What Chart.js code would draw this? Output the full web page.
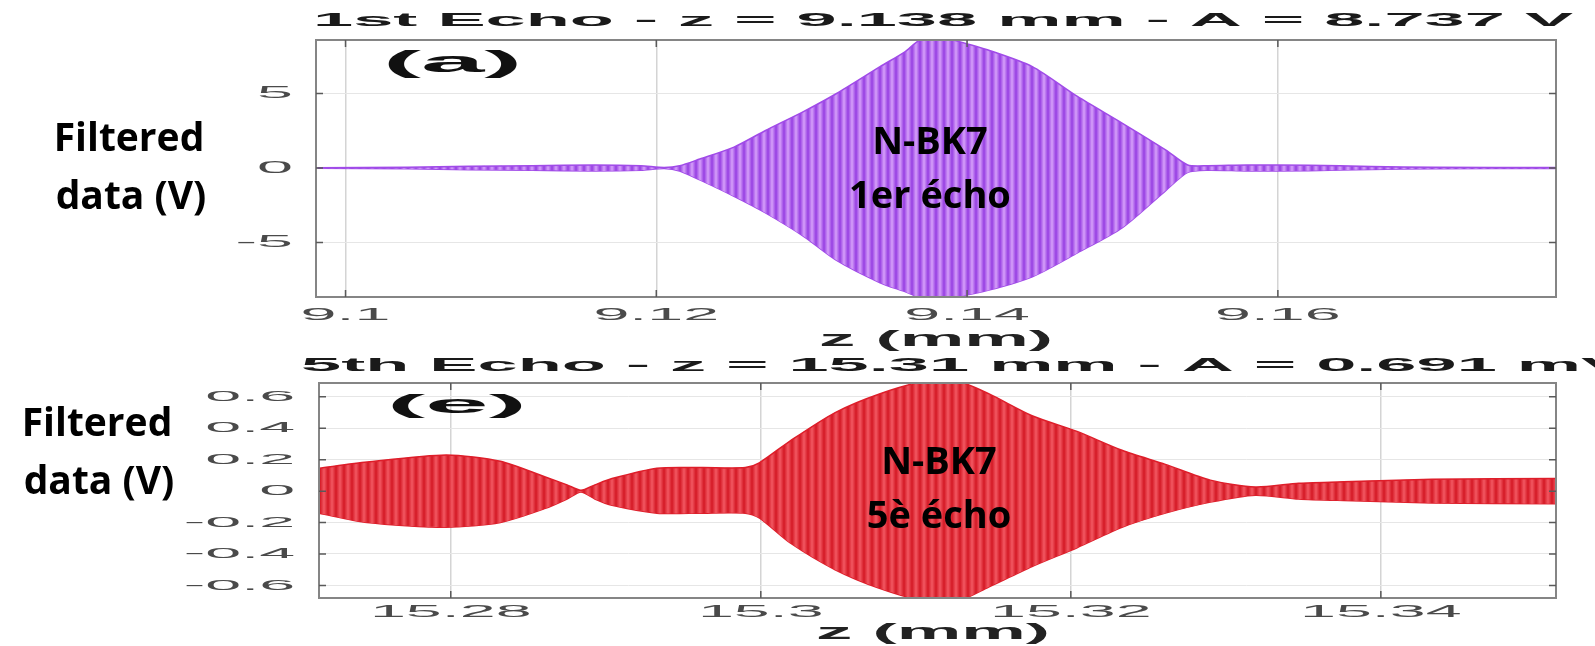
<!DOCTYPE html>
<html>
<head>
<meta charset="utf-8">
<script src="https://cdn.jsdelivr.net/npm/chart.js@4.4.1/dist/chart.umd.min.js"></script>
<style>
  html, body { margin: 0; padding: 0; background: #fff; }
  #wrap { position: relative; width: 1595px; height: 646px; overflow: hidden; }
  canvas { position: absolute; left: 0; }
</style>
</head>
<body>
<div id="wrap">
  <canvas id="chartA" width="1595" height="355" style="top:0;width:1595px;height:355px"></canvas>
  <canvas id="chartE" width="1595" height="291" style="top:355px;width:1595px;height:291px"></canvas>
</div>
<script>
// panel (a) : 1st echo, envelope
var zA     = [9.0982, 9.104, 9.108, 9.112, 9.116, 9.119, 9.1205, 9.1215, 9.1228, 9.125, 9.127, 9.1295, 9.1316, 9.1344, 9.136, 9.137, 9.1385, 9.1391, 9.1414, 9.1442, 9.1471, 9.150, 9.1528, 9.1542, 9.1555, 9.158, 9.162, 9.166, 9.170, 9.1779];
var upperA = [0.02, 0.05, 0.12, 0.15, 0.2, 0.15, 0.04, 0.15, 0.6, 1.4, 2.5, 3.8, 5.0, 6.8, 7.8, 8.6, 8.74, 8.6, 7.9, 6.8, 4.8, 3.0, 1.2, 0.2, 0.15, 0.2, 0.18, 0.1, 0.05, 0.03];
var lowerA = [-0.02, -0.05, -0.12, -0.15, -0.2, -0.15, -0.04, -0.2, -0.8, -1.9, -3.0, -4.6, -6.2, -7.7, -8.3, -8.7, -8.74, -8.7, -8.2, -7.3, -5.7, -4.0, -1.5, -0.3, -0.15, -0.2, -0.18, -0.1, -0.05, -0.03];
var xTicksA  = [9.1, 9.12, 9.14, 9.16];
var xLabelsA = ["9.1", "9.12", "9.14", "9.16"];
var yTicksA  = [-5, 0, 5];
var yLabelsA = ["-5", "0", "5"];

// panel (e) : 5th echo
var zE     = [15.2715, 15.2746, 15.2797, 15.2832, 15.2861, 15.2875, 15.2884, 15.2893, 15.2904, 15.2933, 15.2962, 15.299, 15.2999, 15.3019, 15.3048, 15.3077, 15.3106, 15.3127, 15.3147, 15.3175, 15.3204, 15.3233, 15.3261, 15.329, 15.3319, 15.3347, 15.3376, 15.3433, 15.3513];
var upperE = [0.146, 0.185, 0.23, 0.19, 0.09, 0.04, 0.005, 0.04, 0.08, 0.146, 0.15, 0.15, 0.18, 0.32, 0.50, 0.62, 0.70, 0.70, 0.62, 0.48, 0.38, 0.26, 0.17, 0.07, 0.026, 0.05, 0.06, 0.075, 0.08];
var lowerE = [-0.14, -0.20, -0.23, -0.20, -0.11, -0.05, -0.005, -0.05, -0.09, -0.14, -0.14, -0.14, -0.17, -0.33, -0.50, -0.62, -0.70, -0.70, -0.61, -0.48, -0.36, -0.23, -0.14, -0.07, -0.026, -0.05, -0.06, -0.075, -0.08];
var xTicksE  = [15.28, 15.3, 15.32, 15.34];
var xLabelsE = ["15.28", "15.3", "15.32", "15.34"];
var yTicksE  = [-0.6, -0.4, -0.2, 0, 0.2, 0.4, 0.6];
var yLabelsE = ["-0.6", "-0.4", "-0.2", "0", "0.2", "0.4", "0.6"];

var MATLAB_FONT = '"Liberation Sans", Arial, sans-serif';
var NOTE_FONT   = '"Open Sans", "Noto Sans", sans-serif';

// vertical stripes to imitate the dense oscillation
function stripes(dark, light) {
  var c = document.createElement('canvas');
  c.width = 8; c.height = 4;
  var g = c.getContext('2d');
  var grad = g.createLinearGradient(0, 0, 8, 0);
  grad.addColorStop(0, dark);
  grad.addColorStop(0.5, light);
  grad.addColorStop(1, dark);
  g.fillStyle = grad;
  g.fillRect(0, 0, 8, 4);
  return g.createPattern(c, 'repeat');
}

// text squeezed the way the exported figure is (wide letters)
function wideText(ctx, text, x, y, sx, font, color, align) {
  ctx.save();
  ctx.translate(x, y);
  ctx.scale(sx, 1);
  ctx.font = font;
  ctx.fillStyle = color;
  ctx.textAlign = align;
  ctx.textBaseline = 'middle';
  ctx.fillText(text, 0, 0);
  ctx.restore();
}

var matlabAxes = {
  id: 'matlabAxes',
  afterDraw: function (chart, args, o) {
    var ctx = chart.ctx, a = chart.chartArea;
    var xs = chart.scales.x, ys = chart.scales.y;
    ctx.save();
    // box
    ctx.strokeStyle = '#858585';
    ctx.lineWidth = 2;
    ctx.strokeRect(a.left, a.top, a.right - a.left, a.bottom - a.top);
    // inward tick marks
    ctx.strokeStyle = '#5a5a5a';
    ctx.lineWidth = 1.5;
    ctx.beginPath();
    xs.ticks.forEach(function (t) {
      var px = xs.getPixelForValue(t.value);
      ctx.moveTo(px, a.bottom); ctx.lineTo(px, a.bottom - 7);
      ctx.moveTo(px, a.top);    ctx.lineTo(px, a.top + 7);
    });
    ys.ticks.forEach(function (t) {
      var py = ys.getPixelForValue(t.value);
      ctx.moveTo(a.left, py);  ctx.lineTo(a.left + 7, py);
      ctx.moveTo(a.right, py); ctx.lineTo(a.right - 7, py);
    });
    ctx.stroke();
    ctx.restore();

    // tick labels
    xs.ticks.forEach(function (t, i) {
      wideText(ctx, o.xLabels[i], xs.getPixelForValue(t.value), o.xTickY, 3.8,
               '17px ' + MATLAB_FONT, '#4a4a4a', 'center');
    });
    ys.ticks.forEach(function (t, i) {
      wideText(ctx, o.yLabels[i], o.yTickX, ys.getPixelForValue(t.value), o.yTickSx,
               o.yTickSize + 'px ' + MATLAB_FONT, '#4a4a4a', 'right');
    });
    // titles
    wideText(ctx, o.title, o.titleX, o.titleY, 3.8, 'bold 19px ' + MATLAB_FONT, '#1a1a1a', 'left');
    wideText(ctx, 'z (mm)', o.xTitleX, o.xTitleY, 3.3, 'bold 22px ' + MATLAB_FONT, '#222', 'center');
    wideText(ctx, o.tag, o.tagX, o.tagY, o.tagSx, 'bold ' + o.tagSize + 'px ' + MATLAB_FONT, '#111', 'left');

    // slide annotations
    ctx.save();
    ctx.fillStyle = '#000';
    ctx.textAlign = 'center';
    ctx.textBaseline = 'middle';
    ctx.font = 'bold 39px ' + NOTE_FONT;
    ctx.fillText('Filtered', o.yNameX, o.yNameY);
    ctx.fillText('data (V)', o.yNameX + 2, o.yNameY + 58);
    ctx.font = 'bold 38px ' + NOTE_FONT;
    ctx.fillText('N-BK7', o.noteX, o.noteY);
    ctx.fillText(o.note, o.noteX, o.noteY + 54);
    ctx.restore();
  }
};

function makeChart(id, z, up, low, xt, yt, xmin, xmax, ymin, ymax, line, dark, light, pad, opts) {
  var ctx = document.getElementById(id).getContext('2d');
  return new Chart(ctx, {
    type: 'line',
    data: {
      datasets: [
        {
          data: z.map(function (v, i) { return { x: v, y: up[i] }; }),
          borderColor: line,
          borderWidth: 1.5,
          backgroundColor: stripes(dark, light),
          fill: '+1',
          pointRadius: 0,
          tension: 0.25
        },
        {
          data: z.map(function (v, i) { return { x: v, y: low[i] }; }),
          borderColor: line,
          borderWidth: 1.5,
          fill: false,
          pointRadius: 0,
          tension: 0.25
        }
      ]
    },
    options: {
      responsive: false,
      animation: false,
      events: [],
      layout: { padding: pad },
      plugins: {
        legend: { display: false },
        tooltip: { enabled: false },
        matlabAxes: opts
      },
      scales: {
        x: {
          type: 'linear',
          min: xmin, max: xmax,
          afterBuildTicks: function (s) { s.ticks = xt.map(function (v) { return { value: v }; }); },
          afterFit: function (s) { s.height = 0; },
          ticks: { display: false },
          border: { display: false },
          grid: { color: '#d4d4d4', lineWidth: 1.5, drawTicks: false }
        },
        y: {
          min: ymin, max: ymax,
          afterBuildTicks: function (s) { s.ticks = yt.map(function (v) { return { value: v }; }); },
          afterFit: function (s) { s.width = 0; },
          ticks: { display: false },
          border: { display: false },
          grid: { color: '#e6e6e6', lineWidth: 1, drawTicks: false }
        }
      }
    },
    plugins: [matlabAxes]
  });
}

makeChart('chartA', zA, upperA, lowerA, xTicksA, yTicksA, 9.0981, 9.1779, -8.66, 8.59,
  'rgb(160, 75, 232)', 'rgb(150, 62, 226)', 'rgb(214, 160, 250)',
  { left: 316, right: 39, top: 40, bottom: 58 },
  {
    title: '1st Echo - z = 9.138 mm - A = 8.737 V', titleX: 313, titleY: 21,
    tag: '(a)', tagX: 383, tagY: 64, tagSize: 30, tagSx: 3.8,
    xLabels: xLabelsA, yLabels: yLabelsA, xTickY: 315, yTickX: 293, yTickSize: 17, yTickSx: 3.8,
    xTitleX: 936, xTitleY: 340,
    yNameX: 129, yNameY: 140,
    note: '1er écho', noteX: 930, noteY: 143
  });

makeChart('chartE', zE, upperE, lowerE, xTicksE, yTicksE, 15.2715, 15.3513, -0.68, 0.688,
  'rgb(222, 30, 42)', 'rgb(212, 24, 36)', 'rgb(242, 88, 98)',
  { left: 319, right: 39, top: 28, bottom: 48 },
  {
    title: '5th Echo - z = 15.31 mm - A = 0.691 mV', titleX: 301, titleY: 11,
    tag: '(e)', tagX: 387, tagY: 51, tagSize: 26, tagSx: 4.4,
    xLabels: xLabelsE, yLabels: yLabelsE, xTickY: 257, yTickX: 295, yTickSize: 15, yTickSx: 4.3,
    xTitleX: 933, xTitleY: 278,
    yNameX: 97, yNameY: 70,
    note: '5è écho', noteX: 939, noteY: 108
  });
</script>
</body>
</html>
